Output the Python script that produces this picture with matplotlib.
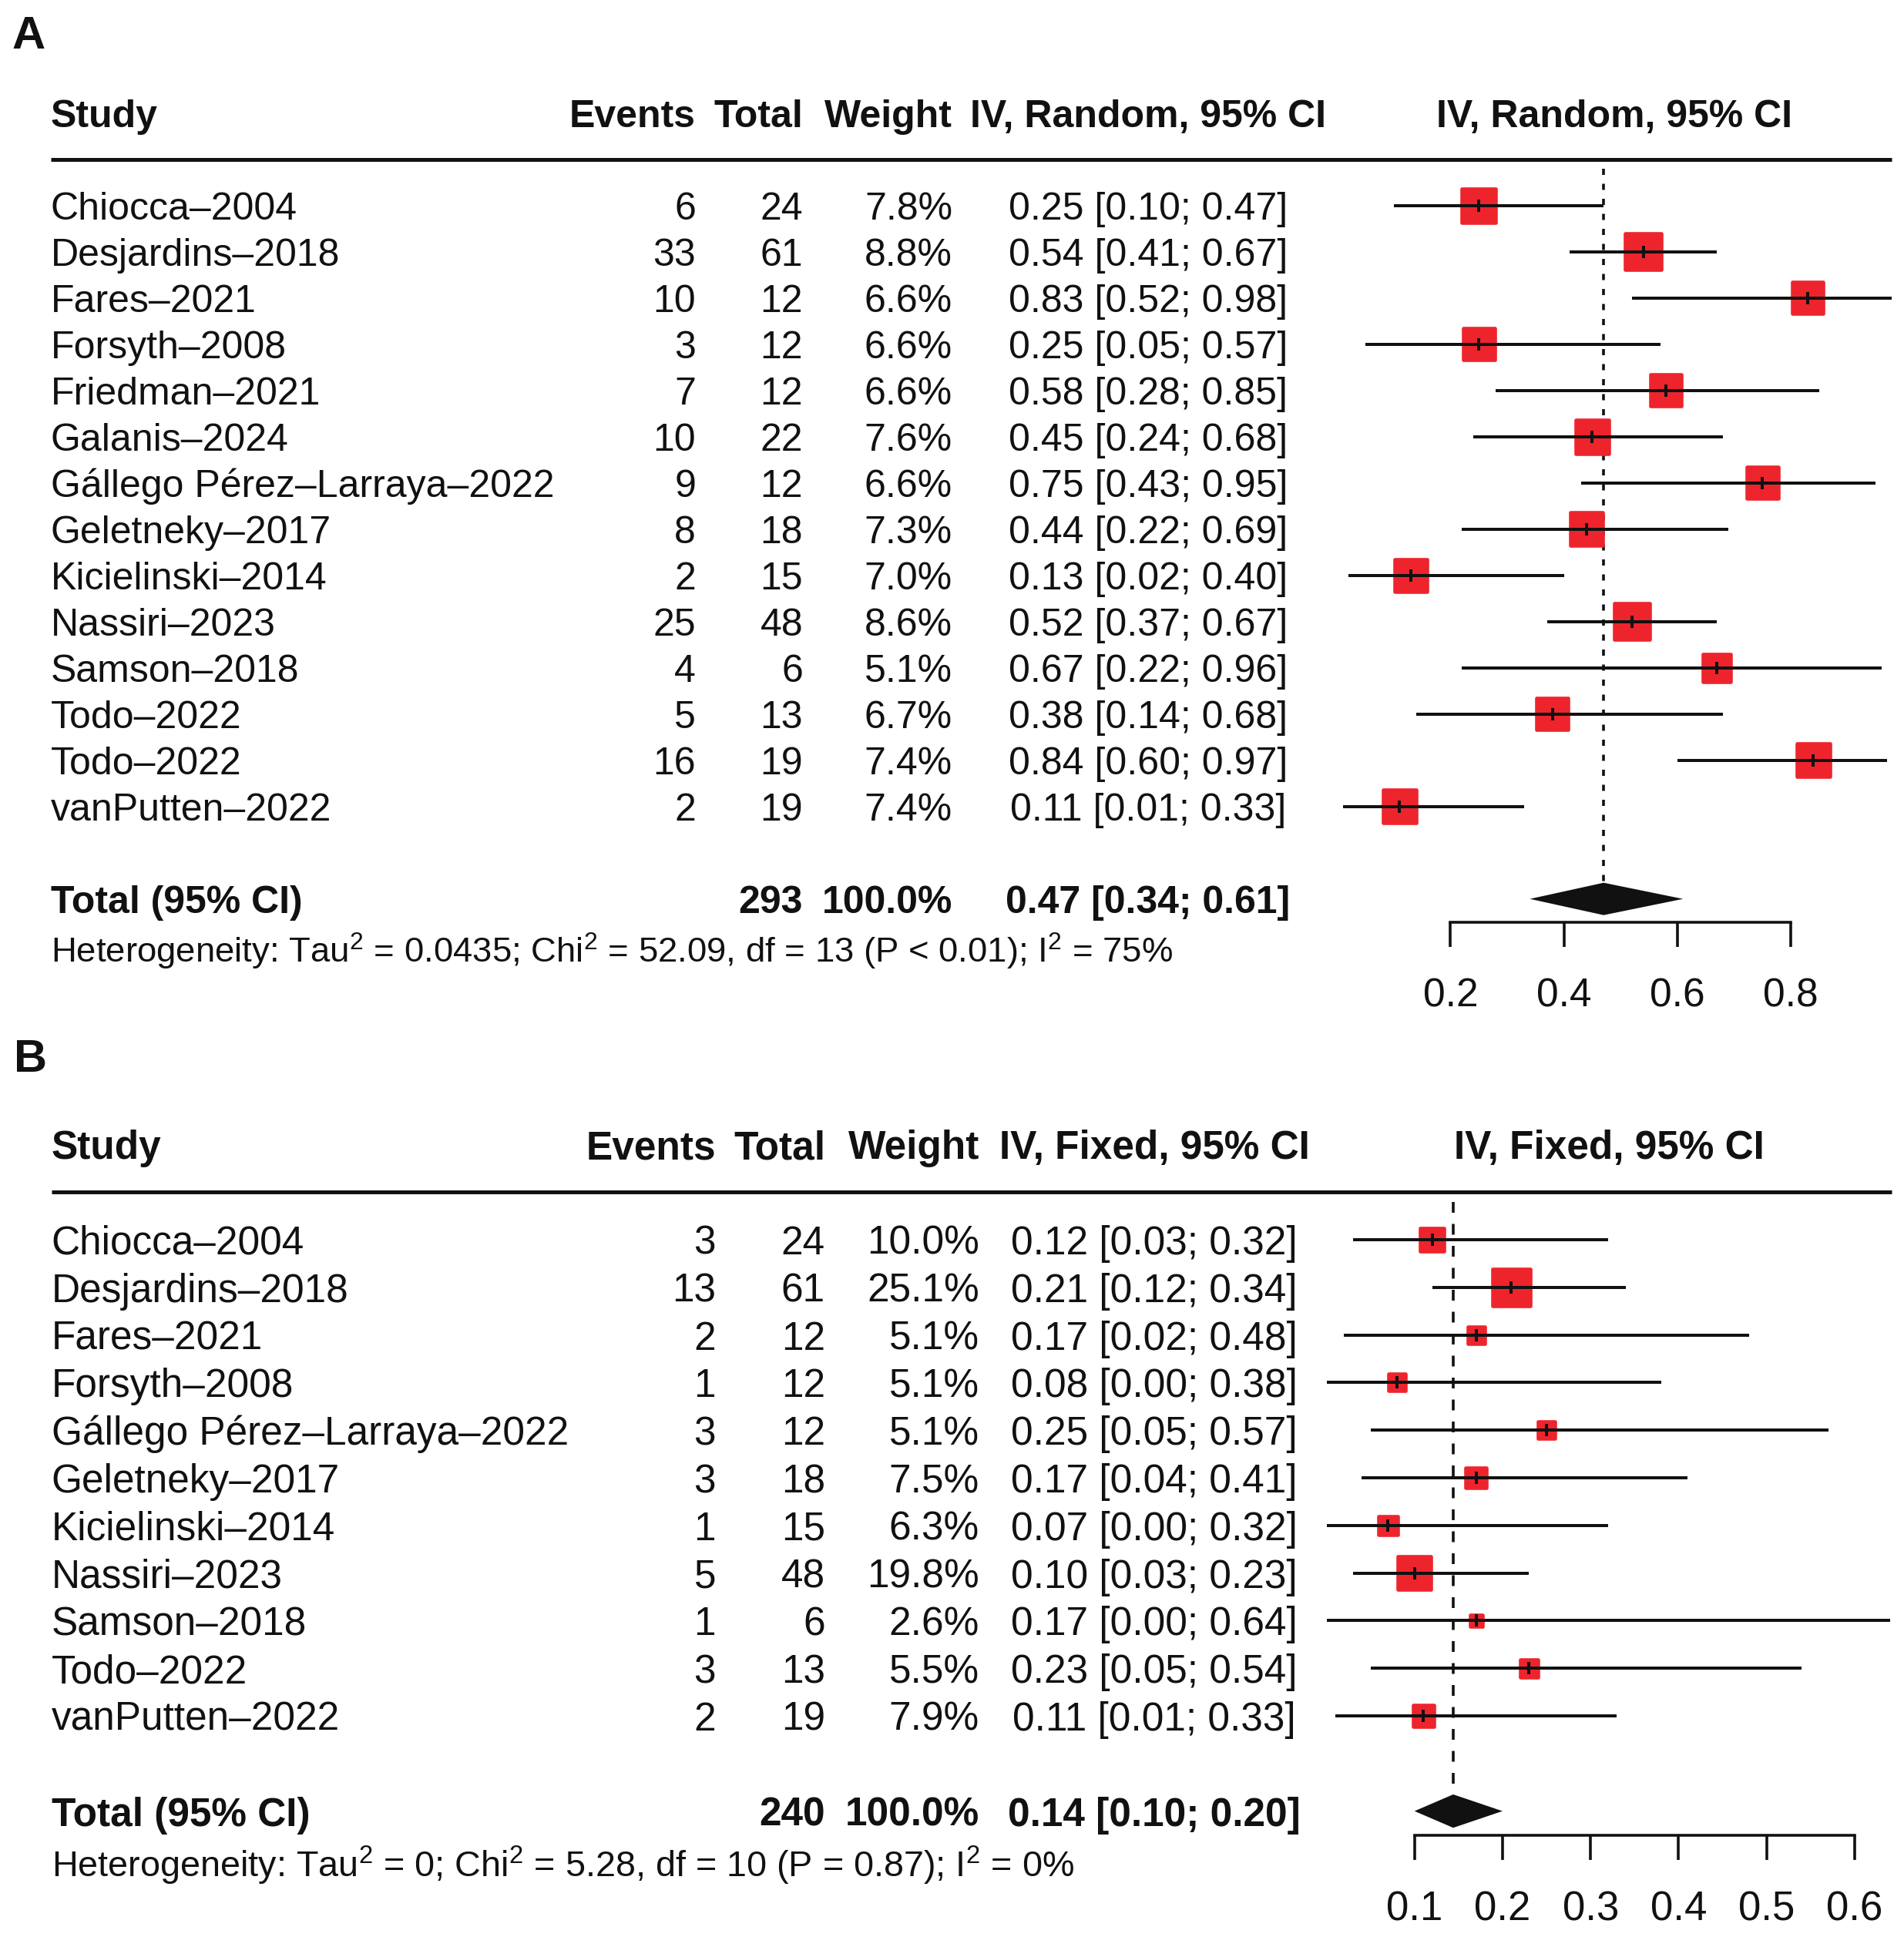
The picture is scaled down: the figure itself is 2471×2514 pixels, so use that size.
import numpy as np
import matplotlib.pyplot as plt
from matplotlib import transforms

plt.rcParams['font.family'] = ['Liberation Sans', 'DejaVu Sans']
plt.rcParams['mathtext.fontset'] = 'custom'
plt.rcParams['mathtext.rm'] = 'Liberation Sans'
plt.rcParams['mathtext.it'] = 'Liberation Sans:italic'
plt.rcParams['mathtext.bf'] = 'Liberation Sans:bold'
plt.rcParams['lines.scale_dashes'] = False

# ---- Panel A: random effects ----
studies_a = ["Chiocca–2004", "Desjardins–2018", "Fares–2021", "Forsyth–2008",
             "Friedman–2021", "Galanis–2024", "Gállego Pérez–Larraya–2022",
             "Geletneky–2017", "Kicielinski–2014", "Nassiri–2023", "Samson–2018",
             "Todo–2022", "Todo–2022", "vanPutten–2022"]
events_a = [6, 33, 10, 3, 7, 10, 9, 8, 2, 25, 4, 5, 16, 2]
total_a = [24, 61, 12, 12, 12, 22, 12, 18, 15, 48, 6, 13, 19, 19]
weight_a = [7.8, 8.8, 6.6, 6.6, 6.6, 7.6, 6.6, 7.3, 7.0, 8.6, 5.1, 6.7, 7.4, 7.4]
est_a = [0.25, 0.54, 0.83, 0.25, 0.58, 0.45, 0.75, 0.44, 0.13, 0.52, 0.67, 0.38, 0.84, 0.11]
lo_a = [0.10, 0.41, 0.52, 0.05, 0.28, 0.24, 0.43, 0.22, 0.02, 0.37, 0.22, 0.14, 0.60, 0.01]
hi_a = [0.47, 0.67, 0.98, 0.57, 0.85, 0.68, 0.95, 0.69, 0.40, 0.67, 0.96, 0.68, 0.97, 0.33]
pooled_a = [0.47, 0.34, 0.61]
sum_total_a = 293
ticks_a = [0.2, 0.4, 0.6, 0.8]
tick_labels_a = ["0.2", "0.4", "0.6", "0.8"]
het_a = "Heterogeneity: Tau$^2$ = 0.0435; Chi$^2$ = 52.09, df = 13 (P < 0.01); I$^2$ = 75%"

# ---- Panel B: fixed effect ----
studies_b = ["Chiocca–2004", "Desjardins–2018", "Fares–2021", "Forsyth–2008",
             "Gállego Pérez–Larraya–2022", "Geletneky–2017", "Kicielinski–2014",
             "Nassiri–2023", "Samson–2018", "Todo–2022", "vanPutten–2022"]
events_b = [3, 13, 2, 1, 3, 3, 1, 5, 1, 3, 2]
total_b = [24, 61, 12, 12, 12, 18, 15, 48, 6, 13, 19]
weight_b = [10.0, 25.1, 5.1, 5.1, 5.1, 7.5, 6.3, 19.8, 2.6, 5.5, 7.9]
est_b = [0.12, 0.21, 0.17, 0.08, 0.25, 0.17, 0.07, 0.10, 0.17, 0.23, 0.11]
lo_b = [0.03, 0.12, 0.02, 0.00, 0.05, 0.04, 0.00, 0.03, 0.00, 0.05, 0.01]
hi_b = [0.32, 0.34, 0.48, 0.38, 0.57, 0.41, 0.32, 0.23, 0.64, 0.54, 0.33]
pooled_b = [0.144, 0.10, 0.20]
sum_total_b = 240
ticks_b = [0.1, 0.2, 0.3, 0.4, 0.5, 0.6]
tick_labels_b = ["0.1", "0.2", "0.3", "0.4", "0.5", "0.6"]
het_b = "Heterogeneity: Tau$^2$ = 0; Chi$^2$ = 5.28, df = 10 (P = 0.87); I$^2$ = 0%"

W, H = 2471, 2514
RED = '#EE242C'
INK = '#111111'

fig = plt.figure(figsize=(W / 100, H / 100), dpi=100)


def pt(p):
    # pixels -> points at dpi 100
    return p * 0.72


def panel(letter, letter_pos, studies, events, totals, weights, est, lo, hi,
          pooled, sum_total, ticks, tick_labels, het, model_label,
          row0, row_h, xlim, ax_x, cols, fs, dash):
    n = len(studies)
    tot_row = n + 1
    y_bottom = tot_row + 2.6
    top_px = row0 - 4 * row_h
    bot_px = row0 + y_bottom * row_h
    ax = fig.add_axes([ax_x[0] / W, 1 - bot_px / H,
                       (ax_x[1] - ax_x[0]) / W, (bot_px - top_px) / H])
    ax.set_xlim(xlim)
    ax.set_ylim(y_bottom, -4)
    ax.patch.set_visible(False)
    tr = transforms.blended_transform_factory(fig.transFigure, ax.transData)

    name_x, ev_r, tot_r, w_r, ci_c = [c / W for c in cols]
    rows = np.arange(n)

    # header
    hd = dict(transform=tr, fontsize=fs, fontweight='bold', va='center_baseline', color=INK)
    ax.text(name_x, -2, "Study", ha='left', **hd)
    ax.text(ev_r, -2, "Events", ha='right', **hd)
    ax.text(tot_r, -2, "Total", ha='right', **hd)
    ax.text(w_r, -2, "Weight", ha='right', **hd)
    ax.text(ci_c, -2, model_label, ha='center', **hd)
    ax.text(np.mean(xlim), -2, model_label, ha='center', va='center_baseline',
            fontsize=fs, fontweight='bold', color=INK)
    ax.plot([name_x, 2455 / W], [-1, -1], transform=tr, clip_on=False,
            color=INK, lw=pt(5), solid_capstyle='butt')

    # study rows
    td = dict(transform=tr, fontsize=fs, va='center_baseline', color=INK)
    for i in range(n):
        ax.text(name_x, i, studies[i], ha='left', **td)
        ax.text(ev_r, i, str(events[i]), ha='right', **td)
        ax.text(tot_r, i, str(totals[i]), ha='right', **td)
        ax.text(w_r, i, f"{weights[i]:.1f}%", ha='right', **td)
        ax.text(ci_c, i, f"{est[i]:.2f} [{lo[i]:.2f}; {hi[i]:.2f}]", ha='center', **td)

    # squares sized by weight
    w = np.array(weights)
    side = np.sqrt(w / w.max()) * (0.86 * row_h - 4.6)
    ax.scatter(est, rows, s=pt(side) ** 2, marker='s', color=RED,
               edgecolors=RED, linewidths=pt(4.6), zorder=2)
    ax.hlines(rows, lo, hi, color=INK, lw=pt(4), zorder=3)
    ax.plot(est, rows, ls='none', marker='|', ms=pt(16), mew=pt(4), color=INK, zorder=4)

    # pooled estimate
    ax.plot([pooled[0], pooled[0]], [-0.8, tot_row - 0.36], color=INK, lw=pt(3.6),
            linestyle=(0, dash), zorder=1)
    ax.fill([pooled[1], pooled[0], pooled[2], pooled[0]],
            [tot_row, tot_row - 0.35, tot_row, tot_row + 0.35], color=INK, lw=0, zorder=3)

    bd = dict(transform=tr, fontsize=fs, fontweight='bold', va='center_baseline', color=INK)
    ax.text(name_x, tot_row, "Total (95% CI)", ha='left', **bd)
    ax.text(tot_r, tot_row, str(sum_total), ha='right', **bd)
    ax.text(w_r, tot_row, "100.0%", ha='right', **bd)
    ax.text(ci_c, tot_row, f"{pooled[0]:.2f} [{pooled[1]:.2f}; {pooled[2]:.2f}]",
            ha='center', **bd)
    ax.text(name_x, tot_row + 1.05, het, ha='left', transform=tr,
            fontsize=fs * 0.91, va='center_baseline', color=INK)

    # x axis
    for s in ['top', 'left', 'right']:
        ax.spines[s].set_visible(False)
    ax.spines['bottom'].set_position(('data', tot_row + 0.5))
    ax.spines['bottom'].set_bounds(ticks[0], ticks[-1])
    ax.spines['bottom'].set_linewidth(pt(3.6))
    ax.spines['bottom'].set_color(INK)
    ax.set_xticks(ticks)
    ax.set_xticklabels(tick_labels)
    ax.tick_params(axis='x', length=pt(32), width=pt(3.6), pad=pt(40),
                   labelsize=fs + 1, direction='out', color=INK, labelcolor=INK)
    ax.set_yticks([])

    fig.text(letter_pos[0] / W, 1 - letter_pos[1] / H, letter, fontsize=43,
             fontweight='bold', va='baseline', ha='left', color=INK)
    return ax


panel("A", (16, 63), studies_a, events_a, total_a, weight_a, est_a, lo_a, hi_a,
      pooled_a, sum_total_a, ticks_a, tick_labels_a, het_a, "IV, Random, 95% CI",
      row0=266.7, row_h=60.0, xlim=(0, 0.978), ax_x=(1735.3, 2455),
      cols=(65.7, 903, 1042, 1236, 1490), fs=36, dash=(pt(8), pt(11.5)))

panel("B", (18, 1391), studies_b, events_b, total_b, weight_b, est_b, lo_b, hi_b,
      pooled_b, sum_total_b, ticks_b, tick_labels_b, het_b, "IV, Fixed, 95% CI",
      row0=1609, row_h=61.8, xlim=(0, 0.643), ax_x=(1721.5, 2456),
      cols=(66.7, 929, 1071, 1271, 1498), fs=37, dash=(pt(14), pt(14.5)))

fig.savefig("out.png", dpi=100)
